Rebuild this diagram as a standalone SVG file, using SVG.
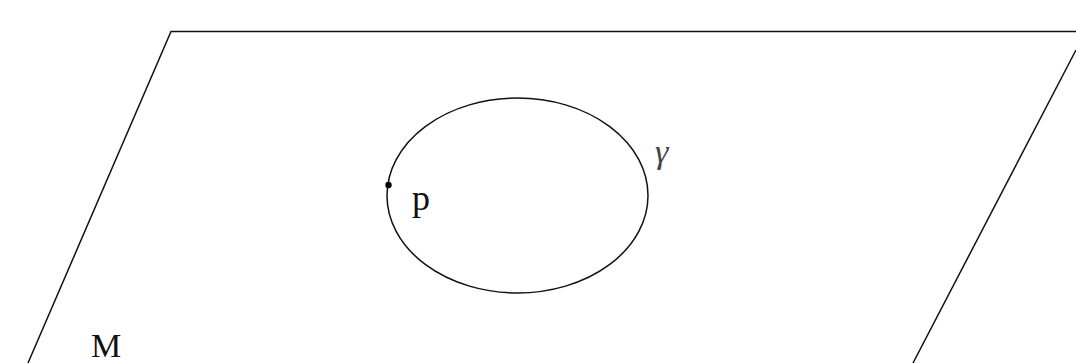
<svg xmlns="http://www.w3.org/2000/svg" width="1076" height="363" viewBox="0 0 1076 363">
<style>
.ln{fill:none;stroke:#111;stroke-width:1.5}
.lbl{font-family:"Liberation Serif",serif;fill:#111}
</style>
<rect width="1076" height="363" fill="#fff"/>
<g id="plane">
<path class="ln" d="M28,363 L171,31.5 L1076,31.5"/>
<path class="ln" d="M1076,50 L913,363"/>
</g>
<g id="curve">
<ellipse class="ln" cx="517.5" cy="195.5" rx="130.5" ry="97.5"/>
</g>
<g id="point-p">
<circle cx="388.5" cy="185" r="3.2" fill="#000"/>
<text class="lbl" x="412" y="210" font-size="36">p</text>
</g>
<g id="label-gamma">
<text class="lbl" x="655" y="163" font-size="34" font-style="italic" style="fill:#444">γ</text>
</g>
<g id="label-M">
<text class="lbl" x="91" y="357" font-size="34">M</text>
</g>
</svg>
